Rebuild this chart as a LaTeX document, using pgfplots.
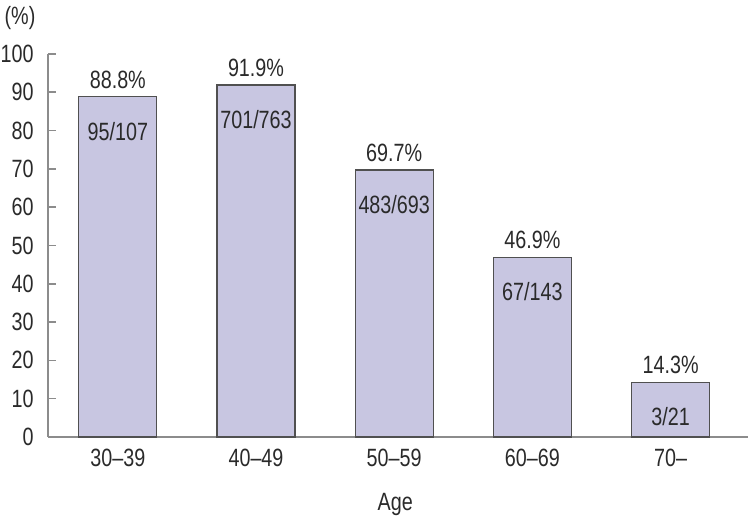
\documentclass[border=0pt]{standalone}
\usepackage{pgfplots}
\pgfplotsset{compat=1.18}
\usepackage{pgfplotstable}
\usepackage{fontspec}
\setmainfont{Liberation Sans}[FakeStretch=0.79]

\definecolor{barfill}{HTML}{C8C6E1}
\definecolor{baredge}{HTML}{505050}
\definecolor{axisgrey}{HTML}{8C8C8C}
\definecolor{txt}{HTML}{2A2A2A}

\pgfplotstableread{
x y pct frac
0 88.8 88.8 95/107
1 91.9 91.9 701/763
2 69.7 69.7 483/693
3 46.9 46.9 67/143
4 14.3 14.3 3/21
}\agedata

\begin{document}
\begin{tikzpicture}
\begin{axis}[
  scale only axis, width=350pt, height=191.5pt,
  xmin=-0.505, xmax=4.56, ymin=0, ymax=100,
  axis lines*=left, axis line style={axisgrey, line width=0.8pt},
  xtick={0,1,2,3,4}, xticklabels={30--39,40--49,50--59,60--69,70--},
  ytick={0,10,...,100},
  major x tick style={draw=none},
  major y tick style={axisgrey, line width=0.8pt},
  tick align=inside, major tick length=4pt,
  /pgf/number format/assume math mode=true,
  tick label style={font=\fontsize{12.5}{15}\selectfont, text=txt, inner sep=0pt},
  yticklabel style={xshift=-7pt},
  xticklabel style={yshift=-6pt},
  clip=false,
]
\addplot[ybar, bar width=0.565, bar shift=0pt, fill=barfill, draw=baredge, line width=0.6pt,
  point meta=explicit symbolic,
  nodes near coords={\pgfplotspointmeta\%},
  nodes near coords style={font=\fontsize{12.5}{15}\selectfont, text=txt, anchor=south, yshift=0.5pt}]
  table[x=x, y=y, meta=pct] {\agedata};
\addplot[draw=none, mark=none,
  point meta=explicit symbolic,
  nodes near coords={\pgfplotspointmeta},
  nodes near coords style={font=\fontsize{12.5}{15}\selectfont, text=txt, anchor=north, yshift=-9pt}]
  table[x=x, y=y, meta=frac] {\agedata};
\node[font=\fontsize{12.5}{15}\selectfont, text=txt, inner sep=0pt] at (rel axis cs:-0.04,1.094) {(\%)};
\node[font=\fontsize{12.5}{15}\selectfont, text=txt, inner sep=0pt] at (rel axis cs:0.496,-0.176) {Age};
\path[draw=none] (rel axis cs:-0.0686,-0.2141) rectangle (rel axis cs:1.0043,1.141);
\end{axis}
\end{tikzpicture}
\end{document}
